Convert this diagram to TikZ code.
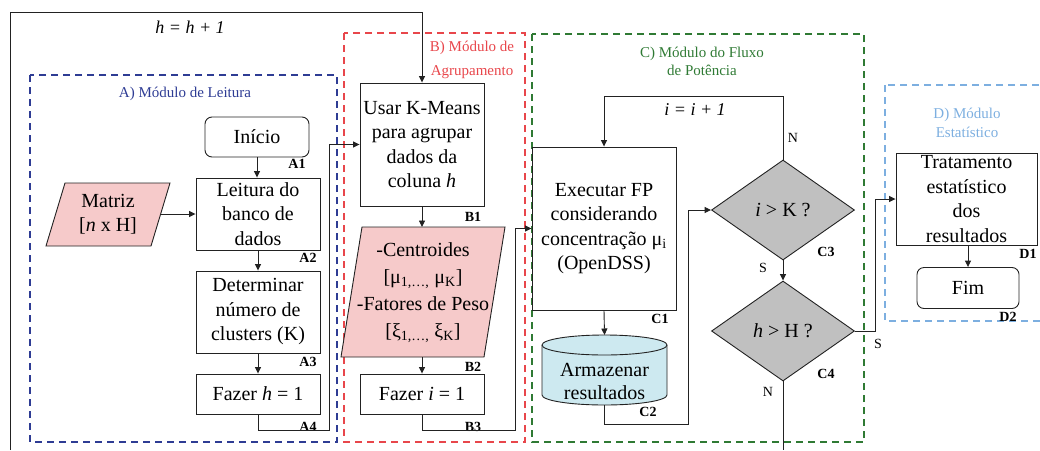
\documentclass[tikz,border=0pt]{standalone}
\usepackage{fontspec}
\setmainfont{Liberation Serif}
\usetikzlibrary{arrows.meta,shapes.geometric}
\definecolor{modA}{HTML}{2E3C94}
\definecolor{modB}{HTML}{E8464B}
\definecolor{modC}{HTML}{2F7A34}
\definecolor{modD}{HTML}{7DAFE0}
\definecolor{pinkf}{HTML}{F6CACA}
\definecolor{cyanf}{HTML}{CDE9F0}
\definecolor{grayf}{HTML}{C0C0C0}
\definecolor{ink}{HTML}{222222}
\begin{document}
\begin{tikzpicture}[x=1pt,y=-1pt,
  box/.style={draw=ink, line width=0.9pt, fill=white, inner sep=0pt, align=center,
    font=\fontsize{20}{24.5}\selectfont},
  rbox/.style={box, rounded corners=7pt},
  txt/.style={inner sep=0pt, align=center, font=\fontsize{20}{24.5}\selectfont},
  dec/.style={diamond, draw=ink, line width=0.9pt, fill=grayf, inner sep=0pt,
    minimum width=143pt, minimum height=100pt, font=\fontsize{20}{24}\selectfont},
  lbl/.style={inner sep=0pt, font=\bfseries\fontsize{14}{14}\selectfont},
  yn/.style={inner sep=0pt, font=\fontsize{14}{14}\selectfont},
  loopl/.style={inner sep=0pt, font=\itshape\fontsize{18}{18}\selectfont},
  modbox/.style={line width=1.8pt, dash pattern=on 7pt off 5pt},
  modtitle/.style={inner sep=0pt, align=center},
  conn/.style={draw=ink, line width=0.9pt},
  arr/.style={conn, -{Triangle[length=6.5pt,width=6pt]}}
]
\useasboundingbox (0,0) rectangle (1040,450);

% ---------- module frames ----------
\draw[modbox, modA] (30,75) rectangle (337,442);
\draw[modbox, modB] (344,33) rectangle (525,442);
\draw[modbox, modC] (532,34) rectangle (864,442);
\draw[modbox, modD] (885,85) rectangle (1050,321);

\node[modtitle, text=modA, font=\fontsize{15}{18}\selectfont] (tA) at (185,94) {A) Módulo de Leitura};
\node[modtitle, text=modB, font=\fontsize{15}{24}\selectfont] (tB) at (472,60) {B) Módulo de\\Agrupamento};
\node[modtitle, text=modC, font=\fontsize{15}{18}\selectfont] (tC) at (702,61) {C) Módulo do Fluxo\\de Potência};
\node[modtitle, text=modD, font=\fontsize{15}{19}\selectfont] (tD) at (967,122.5) {D) Módulo\\Estatístico};

% ---------- module A ----------
\node[rbox, minimum width=104pt, minimum height=40pt] (A1) at (257,137) {Início};
\node[box, minimum width=124pt, minimum height=72pt] (A2) at (258,214) {Leitura do\\banco de\\dados};
\node[box, minimum width=124pt, minimum height=82pt] (A3) at (258,312) {Determinar\\número de\\clusters (K)};
\node[box, minimum width=124pt, minimum height=40pt] (A4) at (258,394) {Fazer \textit{h} = 1};

\filldraw[fill=pinkf, draw=ink, line width=0.9pt] (46,246) -- (65,183) -- (170,183) -- (151,246) -- cycle;
\node[txt] (M) at (108,214) {Matriz\\{[}\textit{n} x H{]}};
\coordinate (Mr) at (160.5,214);

\node[lbl] (lA1) at (297,164) {A1};
\node[lbl] (lA2) at (308,258) {A2};
\node[lbl] (lA3) at (308,362) {A3};
\node[lbl] (lA4) at (308,427) {A4};

% ---------- module B ----------
\node[box, minimum width=124pt, minimum height=123pt] (B1) at (422,144.5) {Usar K-Means\\para agrupar\\dados da\\coluna \textit{h}};
\filldraw[fill=pinkf, draw=ink, line width=0.9pt] (341,357) -- (362,227) -- (505,227) -- (484,357) -- cycle;
\node[txt, font=\fontsize{20}{27}\selectfont] (B2) at (423,293)
  {-Centroides\\{[}μ\textsubscript{1,…,} μ\textsubscript{K}{]}\\-Fatores de Peso\\{[}ξ\textsubscript{1,…,} ξ\textsubscript{K}{]}};
\coordinate (B2t) at (422,227);
\coordinate (B2b) at (422,357);
\node[box, minimum width=124pt, minimum height=40pt] (B3) at (422,394) {Fazer \textit{i} = 1};

\node[lbl] (lB1) at (473,217) {B1};
\node[lbl] (lB2) at (473,367) {B2};
\node[lbl] (lB3) at (473,427) {B3};

% ---------- module C ----------
\node[box, minimum width=144pt, minimum height=163pt] (C1) at (604,228.5)
  {Executar FP\\considerando\\concentração μ\textsubscript{i}\\(OpenDSS)};

% cylinder C2 (y axis points down: angle 90 is below the centre)
\filldraw[fill=cyanf, draw=ink, line width=0.9pt]
  (542,345) -- (542,395) arc[start angle=180, end angle=0, x radius=62.5, y radius=10]
  -- (667,345) arc[start angle=0, end angle=-180, x radius=62.5, y radius=10] -- cycle;
\draw[ink, line width=0.9pt] (542,345) arc[start angle=180, end angle=0, x radius=62.5, y radius=10];
\node[txt, font=\fontsize{20}{23}\selectfont] (C2) at (604.5,381.5) {Armazenar\\resultados};
\coordinate (C2t) at (604.5,335);
\coordinate (C2b) at (604.5,405);

\node[dec] (C3) at (783,210) {\textit{i} > K ?};
\node[dec] (C4) at (783,331) {\textit{h} > H ?};

\node[lbl] (lC1) at (660,319) {C1};
\node[lbl] (lC2) at (648,412) {C2};
\node[lbl] (lC3) at (826,252) {C3};
\node[lbl] (lC4) at (826,374) {C4};

\node[yn] (n3) at (793,138) {N};
\node[yn] (s3) at (763,268) {S};
\node[yn] (n4) at (768,392) {N};
\node[yn] (s4) at (878,344) {S};

% ---------- module D ----------
\node[box, inner ysep=-6pt, minimum width=141pt, minimum height=92pt] (D1) at (966.5,199)
  {Tratamento\\estatístico\\dos\\resultados};
\node[rbox, minimum width=102pt, minimum height=41pt] (D2) at (968,288) {Fim};

\node[lbl] (lD1) at (1028,254) {D1};
\node[lbl] (lD2) at (1008,317) {D2};

% ---------- connectors ----------
\coordinate (Lb) at (10,450);
\coordinate (topc) at (422,12);
\draw[arr] (Lb) |- (topc) -- (B1.north);
\node[loopl] (hl) at (190,27) {h = h + 1};

\draw[arr] (A1.south) -- (A1.south |- A2.north);
\draw[arr] (Mr) -- (A2.west);
\draw[arr] (A2.south) -- (A3.north);
\draw[arr] (A3.south) -- (A4.north);
\coordinate (a4c) at (329,430);
\draw[arr] (A4.south) |- (a4c) |- (B1.west);

\draw[arr] (B1.south) -- (B2t);
\draw[arr] (B2b) -- (B3.north);
\coordinate (b3c) at (515,430);
\draw[arr] (B3.south) |- (b3c) |- (C1.west);

\draw[arr] (C1.south) -- (C2t);
\coordinate (c2c) at (688,424);
\draw[arr] (C2b) |- (c2c) |- (C3.west);

\coordinate (ic) at (604,96);
\draw[arr] (C3.north) |- (ic) -- (C1.north);
\node[loopl] (il) at (695,110) {i = i + 1};

\draw[arr] (C3.south) -- (C4.north);
\coordinate (c4b) at (783,450);
\draw[conn] (C4.south) -- (c4b);

\coordinate (dc) at (875,199);
\draw[arr] (C4.east) -| (dc) |- (D1.west);
\draw[arr] (D1.south -| D2.north) -- (D2.north);
\end{tikzpicture}
\end{document}
